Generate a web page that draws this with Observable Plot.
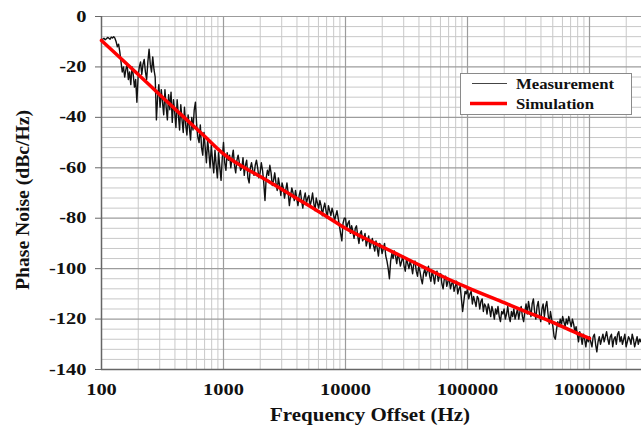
<!DOCTYPE html>
<html>
<head>
<meta charset="utf-8">
<script src="https://cdn.jsdelivr.net/npm/d3@7"></script>
<script src="https://cdn.jsdelivr.net/npm/@observablehq/plot@0.6"></script>
<style>
  html, body { margin: 0; padding: 0; background: #fff; }
  #chart svg { display: block; }
</style>
</head>
<body>
<div id="chart"></div>
<script>
// ---- data ----
// Measurement: sweep points, log-spaced positions within each decade, values in dBc/Hz
const measDecade100 = [-9.5,-9,-8.6,-9.2,-8.8,-8.3,-8.6,-9,-8.2,-8.5,-8,-8.6,-10,-12,-11,-14,-18,-22,-20,-24,-21,-19,-25,-22,-27,-20,-23,-28,-25,-34,-24,-20,-18,-23,-19,-17,-22,-25,-18,-13,-19,-22,-16,-21,-24,-41,-32,-27,-36,-29,-34,-39,-29,-36,-41,-31,-37,-30,-42,-33,-38,-44,-33,-39,-45,-35,-41,-46,-36,-43,-47,-39,-44,-49,-40,-45,-37,-34,-43,-48,-50,-43,-52,-55,-46,-52,-58,-49,-54,-60,-51,-57,-62,-53,-59,-64,-54,-60,-65,-56];
const measDecade1k = [-50,-58,-61,-54,-57,-55,-60,-56,-53,-59,-62,-57,-55,-58,-61,-60,-56,-63,-59,-57,-64,-66,-60,-58,-61,-63,-59,-57,-60,-64,-62,-58,-61,-66,-73,-64,-61,-63,-59,-62,-67,-65,-62,-66,-69,-64,-67,-71,-66,-68,-72,-69,-66,-70,-75,-71,-68,-70,-73,-69,-72,-75,-71,-69,-73,-76,-72,-70,-74,-72,-71,-75,-73,-70,-74,-77,-72,-74,-76,-73,-75,-79,-76,-74,-77,-80,-75,-77,-79,-76,-78,-81,-79,-77,-80,-83,-86,-89,-82,-80];
const measDecade10k = [-80,-84,-82,-81,-86,-83,-85,-88,-84,-83,-87,-90,-86,-85,-89,-88,-86,-91,-89,-87,-92,-90,-88,-91,-93,-89,-92,-95,-90,-91,-94,-92,-90,-95,-97,-100,-104,-97,-94,-96,-93,-95,-98,-94,-96,-99,-97,-95,-99,-101,-96,-98,-100,-97,-99,-102,-98,-97,-101,-103,-99,-101,-104,-106,-102,-100,-103,-101,-99,-103,-105,-101,-103,-106,-102,-101,-105,-103,-102,-106,-108,-104,-103,-107,-105,-104,-108,-106,-105,-109,-107,-105,-110,-108,-107,-112,-117,-113,-109,-110];
const measDecade100k = [-108,-112,-110,-109,-114,-111,-113,-115,-111,-112,-116,-113,-112,-117,-114,-115,-118,-114,-116,-119,-115,-117,-120,-116,-118,-115,-119,-121,-117,-118,-116,-120,-118,-115,-119,-121,-117,-119,-116,-120,-118,-116,-120,-117,-115,-119,-121,-117,-114,-118,-113,-116,-119,-114,-112,-117,-120,-115,-113,-118,-121,-116,-114,-119,-115,-113,-118,-122,-117,-120,-123,-127,-128,-124,-121,-123,-120,-122,-119,-121,-123,-120,-122,-119,-121,-123,-120,-122,-125,-123,-126,-129,-125,-127,-130,-126,-128,-131,-127,-129];
const measDecade1M = [-127,-129,-131,-127,-126,-130,-133,-129,-127,-130,-128,-126,-129,-127,-125,-128,-130,-127,-126,-131,-128,-127,-130,-126,-125,-129,-127,-130,-128,-126,-131,-129,-127,-128,-130,-126,-128,-131,-129,-127,-130,-128,-129,-127,-129];
const decadeStarts = [2, 3, 4, 5, 6]; // log10 of 100, 1k, 10k, 100k, 1M
const lastDecadeStep = 0.01;            // sweep step (decades) in the last, partial decade

// Simulation curve
const simFreq = [100,200,300,500,700,1000,2000,3000,5000,7000,10000,20000,30000,50000,70000,100000,200000,300000,500000,700000,1000000];
const simDb   = [-9.5,-23,-31,-41,-47.5,-54.5,-63.5,-68.5,-75,-79.3,-84,-91.3,-95.5,-100.8,-104.2,-107.5,-113.5,-117,-121.3,-124.5,-127.7];

// Axes
const xTicks = [100, 1000, 10000, 100000, 1000000];
const yTicks = [0, -20, -40, -60, -80, -100, -120, -140];
const xMinor = [200,300,400,500,600,700,800,900,2000,3000,4000,5000,6000,7000,8000,9000,20000,30000,40000,50000,60000,70000,80000,90000,200000,300000,400000,500000,600000,700000,800000,900000,2000000];
const yMinor = [-4,-8,-12,-16,-24,-28,-32,-36,-44,-48,-52,-56,-64,-68,-72,-76,-84,-88,-92,-96,-104,-108,-112,-116,-124,-128,-132,-136];
const xLabel = "Frequency Offset (Hz)";
const yLabel = "Phase Noise (dBc/Hz)";
const seriesNames = ["Measurement", "Simulation"];

// ---- build tables ----
const measArrays = [measDecade100, measDecade1k, measDecade10k, measDecade100k, measDecade1M];
const measurement = [];
measArrays.forEach((arr, k) => {
  const step = k < measArrays.length - 1 ? 1 / arr.length : lastDecadeStep;
  arr.forEach((v, i) => measurement.push({f: Math.pow(10, decadeStarts[k] + i * step), db: v}));
});
const simulation = simFreq.map((f, i) => ({f, db: simDb[i]}));

const font = "'Liberation Serif', 'Times New Roman', serif";

const chart = Plot.plot({
  width: 641,
  height: 436,
  marginLeft: 101,
  marginRight: 0,
  marginTop: 16,
  marginBottom: 67,
  style: {fontFamily: font, fontSize: "16px", fontWeight: "bold", background: "#fff", color: "#000"},
  x: {type: "log", domain: [100, 2668000], axis: null},
  y: {domain: [-140, 0], axis: null},
  marks: [
    Plot.ruleX(xMinor, {stroke: "#c8c8c8", strokeWidth: 1}),
    Plot.ruleY(yMinor, {stroke: "#c8c8c8", strokeWidth: 1}),
    Plot.ruleX(xTicks.slice(1), {stroke: "#9c9c9c", strokeWidth: 1.2}),
    Plot.ruleY(yTicks.slice(0, -1), {stroke: "#9c9c9c", strokeWidth: 1.2}),
    Plot.axisY({ticks: yTicks, tickFormat: d => String(d), tickSize: 6, tickPadding: 9, stroke: "#666", fill: "#111", label: null, fontSize: 16, fontWeight: "bold"}),
    Plot.axisX({ticks: xTicks, tickFormat: d => String(d), tickSize: 0, tickPadding: 14, fill: "#111", label: null, fontSize: 16, fontWeight: "bold"}),
    Plot.ruleX([100], {stroke: "#666", strokeWidth: 1.5}),
    Plot.ruleY([-140], {stroke: "#666", strokeWidth: 1.5}),
    Plot.line(measurement, {x: "f", y: "db", stroke: "#111", strokeWidth: 1.4, clip: true}),
    Plot.line(simulation, {x: "f", y: "db", stroke: "#ff0000", strokeWidth: 3.5, curve: "monotone-x"})
  ]
});

document.getElementById("chart").appendChild(chart);

// widen tick labels horizontally (reference glyphs are wide)
const svg = d3.select(chart.tagName.toLowerCase() === "svg" ? chart : chart.querySelector("svg"));
svg.selectAll('g[aria-label$="tick label"] text').each(function() {
  const t = this.getAttribute("transform");
  if (t) {
    this.setAttribute("transform", t + " scale(1.28,1)");
  } else {
    const x = +this.getAttribute("x") || 0, y = +this.getAttribute("y") || 0;
    this.removeAttribute("x"); this.removeAttribute("y");
    this.setAttribute("transform", `translate(${x},${y}) scale(1.28,1)`);
  }
});

// axis titles
svg.append("text")
  .attr("x", 270).attr("y", 421)
  .attr("text-anchor", "start")
  .attr("font-family", font).attr("font-size", 18).attr("font-weight", "bold")
  .attr("fill", "#111")
  .attr("textLength", 200).attr("lengthAdjust", "spacingAndGlyphs")
  .text(xLabel);
svg.append("text")
  .attr("transform", "translate(29,200) rotate(-90)")
  .attr("text-anchor", "middle")
  .attr("font-family", font).attr("font-size", 18).attr("font-weight", "bold")
  .attr("fill", "#111")
  .attr("textLength", 180).attr("lengthAdjust", "spacingAndGlyphs")
  .text(yLabel);

// legend
const lg = svg.append("g").attr("text-anchor", "start");
lg.append("rect").attr("x", 460.5).attr("y", 73.5).attr("width", 171).attr("height", 41)
  .attr("fill", "#fff").attr("stroke", "#8a8a8a").attr("stroke-width", 1);
lg.append("line").attr("x1", 472).attr("x2", 507).attr("y1", 83.5).attr("y2", 83.5)
  .attr("stroke", "#444").attr("stroke-width", 1.2);
lg.append("line").attr("x1", 470).attr("x2", 507).attr("y1", 103.5).attr("y2", 103.5)
  .attr("stroke", "#ff0000").attr("stroke-width", 3.5);
lg.append("text").attr("x", 516).attr("y", 88.5).attr("text-anchor", "start")
  .attr("font-family", font).attr("font-size", 15).attr("font-weight", "bold").attr("fill", "#111")
  .attr("textLength", 98).attr("lengthAdjust", "spacingAndGlyphs").text(seriesNames[0]);
lg.append("text").attr("x", 516).attr("y", 109).attr("text-anchor", "start")
  .attr("font-family", font).attr("font-size", 15).attr("font-weight", "bold").attr("fill", "#111")
  .attr("textLength", 78).attr("lengthAdjust", "spacingAndGlyphs").text(seriesNames[1]);
</script>
</body>
</html>
